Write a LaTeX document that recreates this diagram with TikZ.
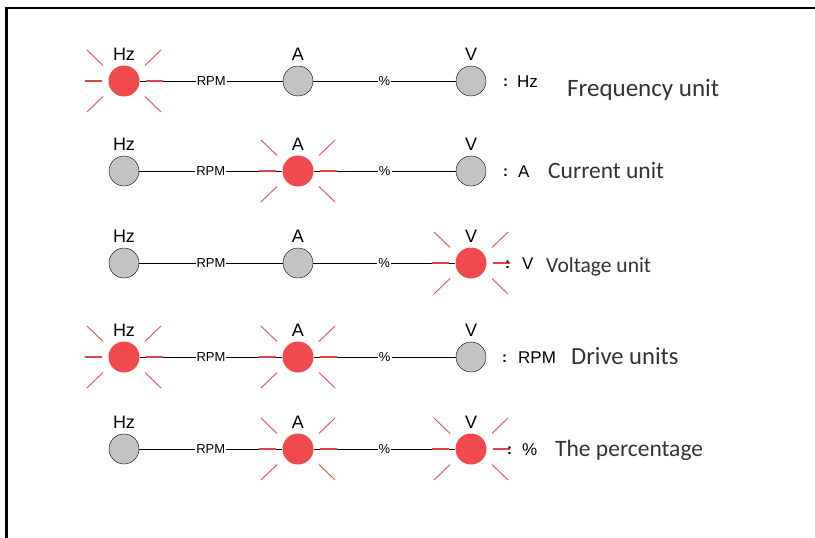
\documentclass[tikz,border=0pt]{standalone}
\usepackage{fontspec}
\setmainfont{Liberation Sans}
\newfontfamily\descfont{Carlito}
\usetikzlibrary{calc}
\definecolor{lampred}{HTML}{F04A4C}
\definecolor{lampgrey}{HTML}{C3C3C3}
\definecolor{desctext}{HTML}{333333}
\tikzset{
  lampoff/.style={
    shape = circle,
    draw,
    fill = lampgrey,
    minimum size = 30pt,
    inner sep = 0pt
  },
  lampon/.style={
    shape = circle,
    fill = lampred,
    minimum size = 31pt,
    inner sep = 0pt
  },
  state0/.style={lampoff},
  state1/.style={lampon},
  ray/.style={
    draw = lampred,
    line width = 0.9pt
  },
  flatray/.style={
    draw = lampred!92!black,
    line width = 1.1pt
  },
  toplabel/.style={
    inner sep = 0pt,
    font = \fontsize{18}{18}\selectfont
  },
  linklabel/.style={
    fill = white,
    inner sep = 1pt,
    font = \fontsize{13}{13}\selectfont
  },
  unittext/.style={
    anchor = west,
    inner sep = 0pt,
    font = \fontsize{17}{17}\selectfont
  },
  desc/.style={
    anchor = west,
    inner sep = 0pt,
    text = desctext
  }
}

\begin{document}
\begin{tikzpicture}[x=1pt,y=-1pt]
  \useasboundingbox (0,0) rectangle (815,538);
  \draw[line width=2.2pt] (6.5,538) -- (6.5,8) -- (815,8);
  % rows: y / Hz A V lit / colon x / unit / unit x / description x, shift, size / description
  \foreach \r/\y/\hon/\aon/\von/\cx/\unit/\ux/\dx/\dy/\ds/\desc in {
      1/81/1/0/0/503/Hz/517/567/9/25/Frequency unit,
      2/171/0/1/0/503/A/518/548/0/23.5/Current unit,
      3/263/0/0/1/505/V/522/546/4/21.5/Voltage unit,
      4/357/1/1/0/502/RPM/518/571/-1/24.6/Drive units,
      5/449/0/1/1/507/\%/522/555/1/23.5/The percentage}{
    \node[state\hon, label={[toplabel,label distance=5pt]above:Hz}] (h\r) at (124,\y) {};
    \node[state\aon, label={[toplabel,label distance=5pt]above:A}] (a\r) at (298,\y) {};
    \node[state\von, label={[toplabel,label distance=5pt]above:V}] (v\r) at (471,\y) {};
    \draw (h\r) -- node[linklabel] {RPM} (a\r);
    \draw (a\r) -- node[linklabel] {\%} (v\r);
    \foreach \n/\on in {h/\hon,a/\aon,v/\von}{
      \ifnum\on=1
        \foreach \sx in {-1,1}{
          \draw[flatray] ($(\n\r)+(\sx*22,0)$) -- ++(\sx*17,0);
          \foreach \sy in {-1,1}
            \draw[ray] ($(\n\r)+(\sx*21,\sy*15.5)$) -- ++(\sx*16,\sy*15.5);
        }
      \fi
    }
    \node[unittext] (c\r) at (\cx,\y+2) {\fontsize{15}{15}\selectfont\bfseries :};
    \node[unittext] (u\r) at (\ux,\y+1) {\unit};
    \node[desc, font={\descfont\fontsize{\ds}{\ds}\selectfont}] (d\r) at (\dx,\y+\dy) {\desc};
  }
\end{tikzpicture}
\end{document}
